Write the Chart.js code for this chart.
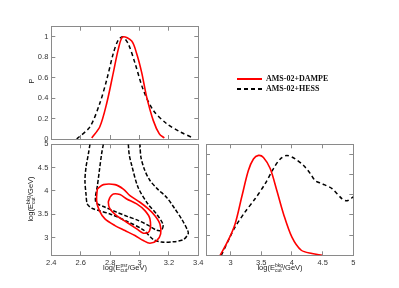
<!DOCTYPE html>
<html>
<head>
<meta charset="utf-8">
<script src="https://cdn.jsdelivr.net/npm/chart.js@4.4.0/dist/chart.umd.min.js"></script>
<style>
body { margin: 0; background: #fff; }
#wrap { position: relative; width: 399px; height: 288px; overflow: hidden; font-family: "Liberation Sans", Arial, sans-serif; }
canvas { position: absolute; left: 0; top: 0; }
.lbl { position: absolute; font-size: 7.5px; line-height: 9px; color: #222; white-space: nowrap; }
.rot { transform: translate(-50%, -50%) rotate(-90deg); }
.hc { transform: translate(-50%, 0); }
.ss { display: inline-flex; flex-direction: column; font-size: 5px; line-height: 5px; vertical-align: middle; }
.leg { position: absolute; font-family: "Liberation Serif", serif; font-weight: bold; font-size: 8px; line-height: 8px; color: #111; white-space: nowrap; }
.lnred { position: absolute; left: 237px; top: 78px; width: 25px; height: 0; border-top: 2px solid #ff0000; }
.lnblk { position: absolute; left: 237px; top: 88px; width: 25px; height: 2px;
  background: repeating-linear-gradient(90deg, #000 0 4px, transparent 4px 7px); }
</style>
</head>
<body>
<div id="wrap">
  <canvas id="c1" width="399" height="288"></canvas>
  <canvas id="c2" width="399" height="288"></canvas>
  <canvas id="c3" width="399" height="288"></canvas>

  <div class="lbl rot" style="left:31px; top:81px;">P</div>
  <div class="lbl rot" style="left:31px; top:199px;">log(E<span class="ss"><span>bkg</span><span>cut</span></span>/GeV)</div>
  <div class="lbl hc" style="left:125px; top:263px;">log(E<span class="ss"><span>psr</span><span>cut</span></span>/GeV)</div>
  <div class="lbl hc" style="left:280px; top:263px;">log(E<span class="ss"><span>bkg</span><span>cut</span></span>/GeV)</div>

  <div class="lnred"></div>
  <div class="lnblk"></div>
  <div class="leg" style="left:266px; top:75px;">AMS-02+DAMPE</div>
  <div class="leg" style="left:266px; top:84.5px;">AMS-02+HESS</div>
</div>

<script>
// tick values
let psrTicks = [2.4, 2.6, 2.8, 3.0, 3.2, 3.4];
let bkgTicksY = [3, 3.5, 4, 4.5, 5];
let bkgTicksX = [3, 3.5, 4, 4.5, 5];
let pTicks = [0, 0.2, 0.4, 0.6, 0.8, 1];

// 1D posterior of log(Ecut_psr)
let psrDampeX = [2.675, 2.73, 2.777, 2.822, 2.856, 2.886, 2.947, 2.98, 3.015, 3.049, 3.094, 3.135, 3.169];
let psrDampeP = [0.01, 0.12, 0.35, 0.65, 0.88, 1.0, 0.96, 0.84, 0.65, 0.41, 0.18, 0.05, 0.01];
let psrHessX = [2.573, 2.663, 2.73, 2.777, 2.822, 2.856, 2.886, 2.924, 2.97, 3.026, 3.094, 3.185, 3.276, 3.366];
let psrHessP = [0.0, 0.12, 0.35, 0.58, 0.84, 0.97, 1.0, 0.93, 0.74, 0.48, 0.28, 0.15, 0.07, 0.01];

// 1D posterior of log(Ecut_bkg)
let bkgDampeX = [2.83, 2.964, 3.074, 3.183, 3.29, 3.373, 3.455, 3.536, 3.646, 3.755, 3.863, 4.0, 4.152, 4.327, 4.49];
let bkgDampeP = [0.0, 0.15, 0.31, 0.58, 0.84, 0.955, 0.99, 0.97, 0.86, 0.64, 0.41, 0.18, 0.05, 0.017, 0.0];
let bkgHessX = [2.85, 2.99, 3.074, 3.237, 3.40, 3.564, 3.70, 3.81, 3.918, 4.054, 4.19, 4.30, 4.38, 4.49, 4.654, 4.817, 4.90, 5.0];
let bkgHessP = [0.0, 0.18, 0.28, 0.43, 0.56, 0.71, 0.86, 0.955, 0.99, 0.955, 0.89, 0.81, 0.74, 0.71, 0.66, 0.56, 0.54, 0.58];

// 2D contours (x = log Ecut_psr, y = log Ecut_bkg)
let dampe95X = [2.713, 2.754, 2.833, 2.89, 2.935, 3.003, 3.06, 3.105, 3.139, 3.144, 3.117, 3.071, 3.026, 2.969, 2.901, 2.833, 2.765, 2.727, 2.708, 2.713];
let dampe95Y = [4.042, 4.135, 4.135, 4.04, 3.90, 3.757, 3.614, 3.47, 3.293, 3.08, 2.936, 2.879, 2.936, 3.043, 3.15, 3.257, 3.40, 3.578, 3.793, 4.042];
let dampe68X = [2.799, 2.822, 2.867, 2.913, 2.981, 3.037, 3.071, 3.067, 3.026, 2.981, 2.913, 2.844, 2.799, 2.788, 2.799];
let dampe68Y = [3.864, 3.935, 3.921, 3.828, 3.721, 3.578, 3.40, 3.136, 3.093, 3.186, 3.329, 3.471, 3.614, 3.757, 3.864];
let hess95X = [2.663, 2.652, 2.636, 2.629, 2.636, 2.645, 2.675, 2.722, 2.799, 2.913, 3.026, 3.094, 3.15, 3.23, 3.30, 3.332, 3.325, 3.29, 3.24, 3.185, 3.12, 3.07, 3.035, 3.01, 3.003];
let hess95Y = [5.0, 4.79, 4.506, 4.221, 3.935, 3.721, 3.63, 3.58, 3.507, 3.35, 3.164, 2.96, 2.905, 2.91, 2.96, 3.09, 3.17, 3.38, 3.62, 3.86, 4.05, 4.23, 4.45, 4.72, 5.0];
let hess68X = [2.754, 2.742, 2.727, 2.712, 2.70, 2.706, 2.76, 2.84, 2.92, 2.99, 3.06, 3.115, 3.15, 3.16, 3.117, 3.055, 2.99, 2.947, 2.93, 2.924];
let hess68Y = [5.0, 4.79, 4.435, 4.08, 3.86, 3.74, 3.66, 3.55, 3.45, 3.37, 3.26, 3.16, 3.16, 3.28, 3.50, 3.73, 4.08, 4.55, 4.78, 5.0];

const W = 399, H = 288;
const YW = 22, XH = 14;
const FRAME = '#8a8a8a';
const TXT = '#333';
const FONT = { family: 'Liberation Sans', size: 7.5 };

function pts(xs, ys) {
    return xs.map((x, i) => ({ x: x, y: ys[i] }));
}

function line(xs, ys, color, dash) {
    return {
        data: pts(xs, ys),
        showLine: true,
        borderColor: color,
        borderWidth: dash ? 1.5 : 1.6,
        borderDash: dash || [],
        pointRadius: 0,
        tension: 0.3,
        fill: false
    };
}

function axis(pos, min, max, ticks, showLabels) {
    let horiz = pos == 'bottom' || pos == 'top';
    let main = pos == 'bottom' || pos == 'left';
    return {
        type: 'linear',
        position: pos,
        min: min,
        max: max,
        afterBuildTicks: s => { s.ticks = ticks.map(v => ({ value: v })); },
        afterFit: s => {
            if (horiz) s.height = main ? XH : 0;
            else s.width = main ? YW : 0;
            s.paddingLeft = 0; s.paddingRight = 0; s.paddingTop = 0; s.paddingBottom = 0;
        },
        // inward tick marks, no grid lines inside the box
        grid: { drawOnChartArea: false, tickLength: -4, color: FRAME, tickColor: FRAME, lineWidth: 1 },
        border: { color: FRAME, width: 1 },
        ticks: {
            display: main && showLabels,
            padding: 7,
            autoSkip: false,
            maxRotation: 0,
            font: FONT,
            color: TXT,
            callback: v => String(v)
        }
    };
}

function makePanel(id, box, xr, yr, datasets) {
    new Chart(document.getElementById(id).getContext('2d'), {
        type: 'scatter',
        data: { datasets: datasets },
        options: {
            responsive: false,
            animation: false,
            events: [],
            layout: { padding: { left: box.l - YW, top: box.t, right: W - box.r, bottom: H - box.b - XH } },
            plugins: { legend: { display: false }, tooltip: { enabled: false } },
            scales: {
                x: axis('bottom', xr.min, xr.max, xr.ticks, xr.labels),
                x2: axis('top', xr.min, xr.max, xr.ticks, false),
                y: axis('left', yr.min, yr.max, yr.ticks, yr.labels),
                y2: axis('right', yr.min, yr.max, yr.ticks, false)
            }
        }
    });
}

// top left: psr marginal
makePanel('c1', { l: 51.3, t: 26.7, r: 198.3, b: 139 },
    { min: 2.4, max: 3.4, ticks: psrTicks, labels: false },
    { min: 0, max: 1.1, ticks: pTicks, labels: true },
    [line(psrDampeX, psrDampeP, '#ff0000'), line(psrHessX, psrHessP, '#000', [4, 3])]);

// bottom left: 2D contours
makePanel('c2', { l: 51.3, t: 144.3, r: 198.3, b: 255.3 },
    { min: 2.4, max: 3.4, ticks: psrTicks, labels: true },
    { min: 2.62, max: 5, ticks: bkgTicksY, labels: true },
    [line(dampe95X, dampe95Y, '#ff0000'), line(dampe68X, dampe68Y, '#ff0000'),
     line(hess95X, hess95Y, '#000', [4, 2]), line(hess68X, hess68Y, '#000', [4, 2])]);

// bottom right: bkg marginal
makePanel('c3', { l: 206, t: 144.3, r: 353.3, b: 255.3 },
    { min: 2.6, max: 5, ticks: bkgTicksX, labels: true },
    { min: 0, max: 1.1, ticks: pTicks, labels: false },
    [line(bkgDampeX, bkgDampeP, '#ff0000'), line(bkgHessX, bkgHessP, '#000', [4, 3])]);
</script>
</body>
</html>
